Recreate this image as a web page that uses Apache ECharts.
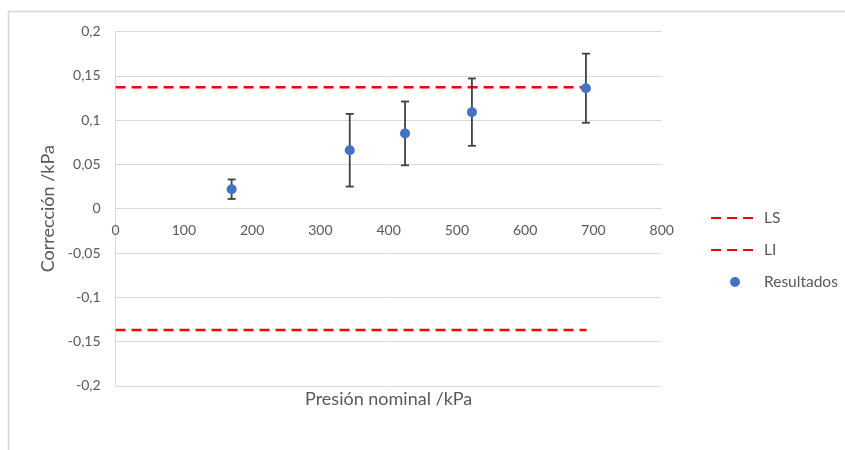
<!DOCTYPE html>
<html>
<head>
<meta charset="utf-8">
<script src="https://cdn.jsdelivr.net/npm/echarts@6/dist/echarts.min.js"></script>
<style>html,body{margin:0;padding:0;background:#fff;}#c{width:845px;height:450px;}</style>
</head>
<body>
<div id="c"></div>
<script>
const pressure = [170, 343, 424, 522, 689];
const correction = [0.022, 0.066, 0.085, 0.109, 0.136];
const uncertainty = [0.011, 0.041, 0.036, 0.038, 0.039];
const limitX = [0, 690];
const lsValue = 0.137;
const liValue = -0.137;
const yTicks = [-0.2, -0.15, -0.1, -0.05, 0, 0.05, 0.1, 0.15, 0.2];
const xTicks = [0, 100, 200, 300, 400, 500, 600, 700, 800];

const FONT = 'Lato';
const TXT = '#595959';
const GRID = '#d9d9d9';

const GRID_TOP = 31.5, GRID_BOTTOM = 64.1, H = 450;
const plotH = H - GRID_TOP - GRID_BOTTOM;

const chart = echarts.init(document.getElementById('c'));
const fmtY = v => String(Math.round(v * 100) / 100).replace('.', ',');

chart.setOption({
  animation: false,
  textStyle: { fontFamily: FONT },
  graphic: [{
    type: 'rect', silent: true, z: -1,
    shape: { x: 8.5, y: 11.5, width: 900, height: 500 },
    style: { fill: 'none', stroke: '#d4d4d4', lineWidth: 1.5 }
  }],
  grid: { left: 115.6, right: 183.3, top: GRID_TOP, bottom: GRID_BOTTOM, containLabel: false, outerBoundsMode: 'none' },
  legend: {
    orient: 'vertical', left: 705, top: 205,
    itemWidth: 48, itemHeight: 10, itemGap: 16,
    textStyle: { color: TXT, fontSize: 15.5, fontFamily: FONT },
    data: [
      { name: 'LS', itemStyle: { opacity: 0 } },
      { name: 'LI', itemStyle: { opacity: 0 } },
      { name: 'Resultados' }
    ]
  },
  xAxis: {
    type: 'value', min: xTicks[0], max: xTicks[xTicks.length - 1], interval: 100,
    offset: -plotH / 2,
    axisLine: { onZero: false, lineStyle: { color: GRID, width: 1 } },
    axisTick: { show: false },
    splitLine: { show: false },
    axisLabel: { color: TXT, fontSize: 14, margin: 15, fontFamily: FONT },
    name: 'Presión nominal /kPa', nameLocation: 'middle', nameGap: 181,
    nameTextStyle: { color: TXT, fontSize: 18, fontFamily: FONT }
  },
  yAxis: {
    type: 'value', min: yTicks[0], max: yTicks[yTicks.length - 1], interval: 0.05,
    axisLine: { show: true, onZero: false, lineStyle: { color: GRID, width: 1 } },
    axisTick: { show: false },
    splitLine: { lineStyle: { color: GRID, width: 1 } },
    axisLabel: { color: TXT, fontSize: 14, margin: 15, formatter: fmtY, fontFamily: FONT },
    name: 'Corrección /kPa', nameLocation: 'middle', nameGap: 58, nameRotate: 90,
    nameTextStyle: { color: TXT, fontSize: 18, fontFamily: FONT }
  },
  series: [
    {
      name: 'LS', type: 'line', symbol: 'none', showSymbol: false,
      data: limitX.map(x => [x, lsValue]),
      lineStyle: { color: '#ff0000', width: 2.5, type: [10, 6] },
      itemStyle: { color: '#ff0000' }, z: 3
    },
    {
      name: 'LI', type: 'line', symbol: 'none', showSymbol: false,
      data: limitX.map(x => [x, liValue]),
      lineStyle: { color: '#ff0000', width: 2.5, type: [10, 6] },
      itemStyle: { color: '#ff0000' }, z: 3
    },
    {
      name: 'errors', type: 'custom', z: 4,
      data: pressure.map((x, i) => [x, correction[i] - uncertainty[i], correction[i] + uncertainty[i]]),
      renderItem: function (params, api) {
        const lo = api.coord([api.value(0), api.value(1)]);
        const hi = api.coord([api.value(0), api.value(2)]);
        const w = 4;
        const st = { stroke: '#404040', lineWidth: 1.8 };
        return {
          type: 'group',
          children: [
            { type: 'line', shape: { x1: lo[0], y1: lo[1], x2: hi[0], y2: hi[1] }, style: st },
            { type: 'line', shape: { x1: lo[0] - w, y1: lo[1], x2: lo[0] + w, y2: lo[1] }, style: st },
            { type: 'line', shape: { x1: hi[0] - w, y1: hi[1], x2: hi[0] + w, y2: hi[1] }, style: st }
          ]
        };
      }
    },
    {
      name: 'Resultados', type: 'scatter', z: 5,
      symbol: 'circle', symbolSize: 10,
      data: pressure.map((x, i) => [x, correction[i]]),
      itemStyle: { color: '#4472c4', opacity: 1 }
    }
  ]
});
</script>
</body>
</html>
